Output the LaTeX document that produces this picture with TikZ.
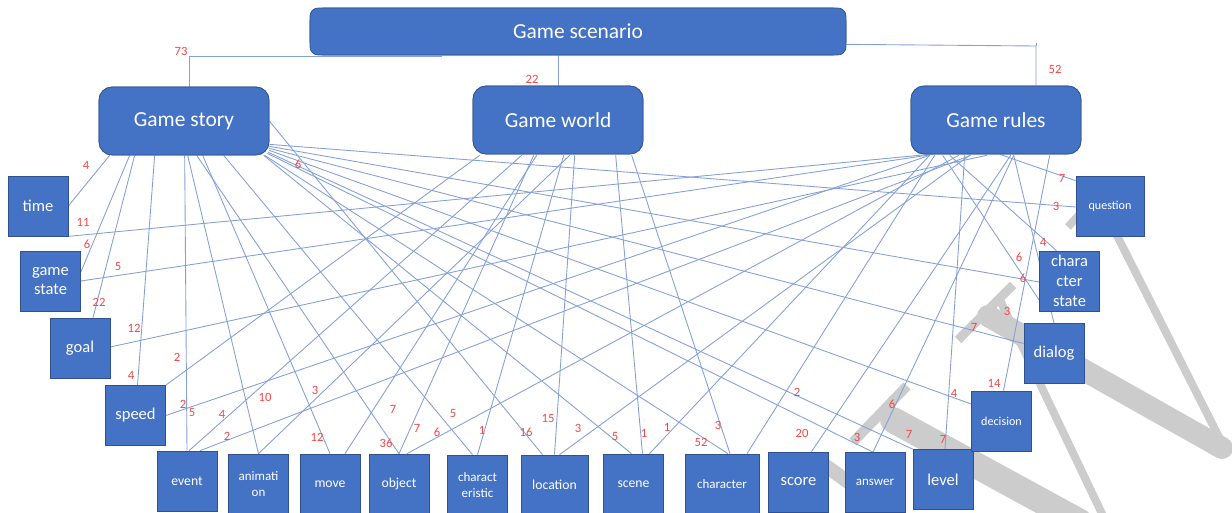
\documentclass[tikz,border=0pt]{standalone}
\usepackage{fontspec}
\setmainfont{Carlito}
\usetikzlibrary{calc}
\definecolor{boxblue}{RGB}{68,114,196}
\definecolor{boxedge}{RGB}{47,82,143}
\definecolor{wire}{RGB}{132,160,214}
\definecolor{tagred}{RGB}{245,70,70}
\definecolor{ghost}{RGB}{204,204,204}
\begin{document}
\begin{tikzpicture}[x=0.02cm,y=-0.02cm,
  parent/.style={draw=boxedge,line width=0.4pt,fill=boxblue,text=white,
    rounded corners=0.26cm,minimum width=3.4cm,minimum height=1.36cm,inner sep=0pt,
    font=\fontsize{12.2}{14}\selectfont},
  leaf/.style={draw=boxedge,line width=0.4pt,fill=boxblue,text=white,
    minimum width=1.2cm,minimum height=1.2cm,inner sep=1pt,align=center},
  big/.style={font=\fontsize{9.4}{11.3}\selectfont},
  mid/.style={font=\fontsize{7.8}{9.4}\selectfont},
  small/.style={font=\fontsize{6.9}{8}\selectfont},
  wire/.style={draw=wire,line width=0.5pt},
  tag/.style={text=tagred,inner sep=0pt,font=\fontsize{7.2}{8}\selectfont},
  ghostline/.style={draw=ghost,line cap=round,line join=round}]
\useasboundingbox (0,0) rectangle (1232,513);

% grey strokes in the lower right
\draw[ghostline,line width=0.16cm] (1100,202) -- (1226,451);
\draw[ghostline,line width=0.16cm,line cap=butt] (1068,227) -- (1090,203);
\draw[ghostline,line width=0.44cm] (988,316) -- (1222,448);
\draw[ghostline,line width=0.18cm,line cap=butt] (958,340) -- (1013,285);
\draw[ghostline,line width=0.16cm] (1000,300) -- (1105,520);
\draw[ghostline,line width=0.2cm,line cap=butt] (907,386) -- (853,442);
\draw[ghostline,line width=0.52cm] (893,420) -- (1080,522);
\draw[ghostline,line width=0.28cm,line cap=butt] (815,458) -- (862,492);

% top level boxes (named here, painted again over the line ends)
\path (578,31.5) node[parent,minimum width=10.72cm,minimum height=0.94cm] (scen) {}
      (184,121) node[parent] (story) {}
      (558,120) node[parent] (world) {}
      (996,120) node[parent] (rules) {};

% leaf positions
\begin{scope}[every node/.style={leaf,draw=none,fill=none}]
\node (time) at (38,206) {};
\node (gstate) at (50.5,281) {};
\node (goal) at (80,348) {};
\node (speed) at (135.5,415.5) {};
\node (event) at (187,481) {};
\node (anim) at (258.5,484) {};
\node (move) at (330,484) {};
\node (object) at (399,484) {};
\node (charac) at (477.5,485) {};
\node[minimum width=1.34cm] (location) at (554.5,485) {};
\node (scene) at (633.5,484) {};
\node[minimum width=1.48cm] (character) at (722,484) {};
\node (score) at (798.5,482) {};
\node (answer) at (875,482.5) {};
\node (level) at (943,479.5) {};
\node (decision) at (1001.5,421) {};
\node (dialog) at (1054,353.5) {};
\node (charstate) at (1069.5,281) {};
\node[minimum width=1.36cm] (question) at (1110,206) {};
\end{scope}

% scenario to the three parts
\coordinate (tS) at (442,56);
\coordinate (tR) at (1036,46);
\draw[wire] (tS) -| ($(story.north)+(5,0)$);
\draw[wire] (world.north |- scen.south) -- (world.north);
\draw[wire] ($(scen.south east)+(0,-11)$) -- (tR) -- (tR |- rules.north);
\draw[wire] ($(tR)+(0,-3)$) -- (tR);

% Game story links
\draw[wire] ($(story.south west)+(11,0)$) -- (time.east);
\draw[wire] ($(story.south west)+(31,0)$) -- ($(gstate.east)+(0,-9)$);
\draw[wire] ($(story.south west)+(36,0)$) -- ($(goal.north)+(13,0)$);
\draw[wire] ($(story.south west)+(56,0)$) -- ($(speed.north)+(2,0)$);
\draw[wire] ($(story.south west)+(86,0)$) -- (event.north);
\draw[wire] ($(story.south west)+(89,0)$) -- (anim.north);
\draw[wire] ($(story.south west)+(104,0)$) -- (move.north);
\draw[wire] ($(story.south west)+(98,0)$) -- (object.north);
\draw[wire] ($(story.south west)+(125,0)$) -- ($(charac.north)+(-5,0)$);
\draw[wire] (story.east) -- ($(location.north)+(-12,0)$);
\draw[wire] ($(story.south west)+(165,0)$) -- ($(scene.north)+(-2,0)$);
\draw[wire] ($(story.south west)+(166,0)$) -- ($(character.north)+(6,0)$);
\draw[wire] ($(story.south east)+(-2,-2)$) -- ($(answer.north)+(-2,0)$);
\draw[wire] ($(story.south east)+(-1,-3)$) -- (level.north west);
\draw[wire] ($(story.south east)+(0,-5)$) -- ($(decision.west)+(0,-17)$);
\draw[wire] ($(story.south east)+(0,-7)$) -- ($(dialog.west)+(0,-10)$);
\draw[wire] ($(story.south east)+(0,-9)$) -- ($(charstate.west)+(0,1)$);
\draw[wire] ($(story.south east)+(0,-11)$) -- ($(question.west)+(0,1)$);

% Game world links
\draw[wire] ($(world.south west)+(7,1)$) -- (speed.north east);
\draw[wire] ($(world.south west)+(49,1)$) -- ($(event.north)+(2,0)$);
\draw[wire] ($(world.south west)+(97,1)$) -- (anim.north);
\draw[wire] ($(world.south west)+(64,1)$) -- ($(move.north)+(15,0)$);
\draw[wire] ($(world.south west)+(61,1)$) -- (object.north);
\draw[wire] ($(world.south west)+(91,1)$) -- (charac.north);
\draw[wire] ($(world.south west)+(102,1)$) -- (location.north);
\draw[wire] ($(world.south west)+(143,1)$) -- ($(scene.north)+(9,0)$);
\draw[wire] ($(world.south west)+(159,1)$) -- ($(character.north)+(8,0)$);

% Game rules links
\draw[wire] ($(rules.south west)+(19,0)$) -- (time.south east);
\draw[wire] ($(rules.south west)+(23,0)$) -- (gstate.east);
\draw[wire] ($(rules.south west)+(76,1)$) -- ($(goal.east)+(0,-1)$);
\draw[wire] ($(rules.south west)+(19,1)$) -- (speed.east);
\draw[wire] ($(rules.south west)+(60,1)$) -- ($(event.north)+(13,0)$);
\draw[wire] ($(rules.south west)+(48,1)$) -- ($(object.north)+(8,0)$);
\draw[wire] ($(rules.south west)+(59,1)$) -- ($(location.north)+(5,0)$);
\draw[wire] ($(rules.south west)+(19,1)$) -- ($(scene.north)+(16,0)$);
\draw[wire] ($(rules.south west)+(24,1)$) -- ($(character.north)+(25,0)$);
\draw[wire] ($(rules.south west)+(100,1)$) -- ($(score.north)+(13,0)$);
\draw[wire] ($(rules.south west)+(103,1)$) -- ($(answer.north)+(-2,0)$);
\draw[wire] ($(rules.south west)+(54,1)$) -- ($(level.north)+(2,0)$);
\draw[wire] ($(rules.south west)+(139,1)$) -- ($(decision.north)+(2,0)$);
\draw[wire] ($(rules.south west)+(103,1)$) -- (dialog.north);
\draw[wire] ($(rules.south west)+(39,1)$) -- ($(charstate.north)+(-13,0)$);
\draw[wire] ($(rules.south west)+(32,1)$) -- ($(charstate.west)+(0,19)$);
\draw[wire] ($(rules.south west)+(89,0)$) -- ($(question.north west)+(0,5)$);

% boxes painted over the line ends
\node[parent,minimum width=10.72cm,minimum height=0.94cm,rounded corners=0.16cm] at (scen) {Game scenario};
\node[parent] at (story) {Game story};
\node[parent] at (world) {Game world};
\node[parent] at (rules) {Game rules};
\begin{scope}[every node/.style={leaf}]
\node[big] at (time) {time};
\node[big] at (gstate) {game\\state};
\node[big] at (goal) {goal};
\node[big] at (speed) {speed};
\node[mid] at (event) {event};
\node[mid,font=\fontsize{7.4}{9.6}\selectfont] at (anim) {animati\\on};
\node[mid] at (move) {move};
\node[mid] at (object) {object};
\node[mid,font=\fontsize{7.4}{9}\selectfont] at (charac) {charact\\eristic};
\node[mid,minimum width=1.34cm] at (location) {location};
\node[mid] at (scene) {scene};
\node[mid,font=\fontsize{7.4}{9}\selectfont,minimum width=1.48cm] at (character) {character};
\node[big] at (score) {score};
\node[mid,font=\fontsize{7.4}{9}\selectfont] at (answer) {answer};
\node[big] at (level) {level};
\node[small] at (decision) {decision};
\node[big] at (dialog) {dialog};
\node[big] at (charstate) {chara\\cter\\state};
\node[small,minimum width=1.36cm] at (question) {question};
\end{scope}

% counts
\foreach \p/\t in {{181,51}/73,{532,79}/22,{1055,69}/52,
  {86,165}/4,{298,164}/6,{83,222}/11,{87,244}/6,{118,266}/5,{99,302}/22,{134,328}/12,
  {177,357}/2,{131,375}/4,{183,404}/2,{192,412}/5,{222,414}/4,{265,397}/10,{227,436}/2,
  {315,390}/3,{317,437}/12,{393,409}/7,{386,443}/36,{417,428}/7,{437,432}/6,
  {453,413}/5,{482,430}/1,{526,432}/16,{548,418}/15,{578,428}/3,{615,436}/5,
  {644,433}/1,{667,427}/1,{701,442}/52,{718,425}/3,{797,392}/2,{802,433}/20,
  {857,437}/3,{892,404}/6,{909,434}/7,{943,439}/7,{954,393}/4,{994,383}/14,
  {974,327}/7,{1007,311}/3,{1019,257}/6,{1023,278}/6,{1043,242}/4,{1062,178}/7,{1056,206}/3}
  {\node[tag] at (\p) {\t};}
\end{tikzpicture}
\end{document}
